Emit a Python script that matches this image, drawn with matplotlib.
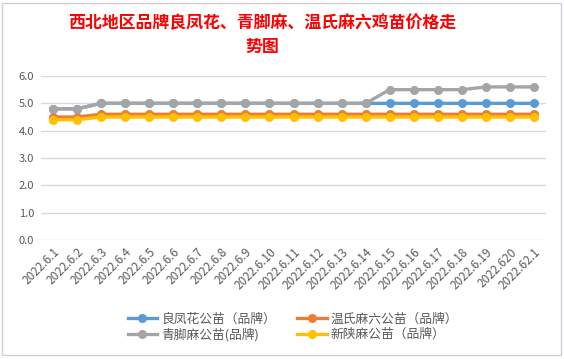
import matplotlib
matplotlib.use("Agg")
import matplotlib.pyplot as plt
from matplotlib.patches import Rectangle

plt.rcParams['font.family'] = ['Noto Sans CJK SC', 'DejaVu Sans']

dates = ["2022.6.1", "2022.6.2", "2022.6.3", "2022.6.4", "2022.6.5", "2022.6.6", "2022.6.7",
         "2022.6.8", "2022.6.9", "2022.6.10", "2022.6.11", "2022.6.12", "2022.6.13", "2022.6.14",
         "2022.6.15", "2022.6.16", "2022.6.17", "2022.6.18", "2022.6.19", "2022.620", "2022.62.1"]

liangfenghua = [4.8, 4.8, 5.0, 5.0, 5.0, 5.0, 5.0, 5.0, 5.0, 5.0, 5.0, 5.0, 5.0, 5.0,
                5.0, 5.0, 5.0, 5.0, 5.0, 5.0, 5.0]
wenshi = [4.5, 4.5, 4.6, 4.6, 4.6, 4.6, 4.6, 4.6, 4.6, 4.6, 4.6, 4.6, 4.6, 4.6,
          4.6, 4.6, 4.6, 4.6, 4.6, 4.6, 4.6]
qingjiaoma = [4.8, 4.8, 5.0, 5.0, 5.0, 5.0, 5.0, 5.0, 5.0, 5.0, 5.0, 5.0, 5.0, 5.0,
              5.5, 5.5, 5.5, 5.5, 5.6, 5.6, 5.6]
xinshanma = [4.4, 4.4, 4.5, 4.5, 4.5, 4.5, 4.5, 4.5, 4.5, 4.5, 4.5, 4.5, 4.5, 4.5,
             4.5, 4.5, 4.5, 4.5, 4.5, 4.5, 4.5]

names = ["良凤花公苗（品牌）", "温氏麻六公苗（品牌）", "青脚麻公苗(品牌)", "新陕麻公苗（品牌）"]
colors = ["#5B9BD5", "#ED7D31", "#A5A5A5", "#FFC000"]
series = [liangfenghua, wenshi, qingjiaoma, xinshanma]
yticks = [0.0, 1.0, 2.0, 3.0, 4.0, 5.0, 6.0]

fig = plt.figure(figsize=(5.64, 3.59), dpi=100)
fig.patch.set_facecolor("white")
fig.add_artist(Rectangle((2/564, 4/359), 559/564, 352/359, transform=fig.transFigure,
                         fill=False, edgecolor="#D0D0D8", linewidth=1.0))

ax = fig.add_axes([41/564, 1-240/359, 505/564, 164/359])
x = list(range(len(dates)))
handles = []
for vals, c, n in zip(series, colors, names):
    h, = ax.plot(x, vals, color=c, linewidth=2.4, marker='o', markersize=6.5,
                 markeredgewidth=0, label=n)
    handles.append(h)

ax.set_xlim(-0.5, len(dates) - 0.5)
ax.set_ylim(0, 6)
ax.set_yticks(yticks)
ax.set_yticklabels([f"{v:.1f}" for v in yticks], fontsize=8, color="#595959")
ax.set_xticks(x)
ax.set_xticklabels(dates, rotation=45, ha='right', va='top', rotation_mode='anchor',
                   fontsize=8.5, color="#595959")
ax.tick_params(axis='both', length=0, pad=5)
ax.tick_params(axis='x', pad=4)
ax.grid(axis='y', color="#D9D9D9", linewidth=1.0)
ax.set_axisbelow(True)
for s in ax.spines.values():
    s.set_visible(False)

order = [0, 2, 1, 3]
fig.legend([handles[i] for i in order], [names[i] for i in order], ncol=2,
           loc='center', bbox_to_anchor=(293/564, 1-327/359), frameon=False,
           fontsize=9.2, handlelength=2.3, columnspacing=1.7, handletextpad=0.3,
           labelspacing=0.2, labelcolor="#595959")

fig.text(262/564, 1-23/359, "西北地区品牌良凤花、青脚麻、温氏麻六鸡苗价格走", color="red",
         fontsize=12.2, fontweight='bold', ha='center', va='center')
fig.text(262/564, 1-47/359, "势图", color="red", fontsize=12.2, fontweight='bold',
         ha='center', va='center')

fig.savefig("out.png", dpi=100, facecolor="white")
